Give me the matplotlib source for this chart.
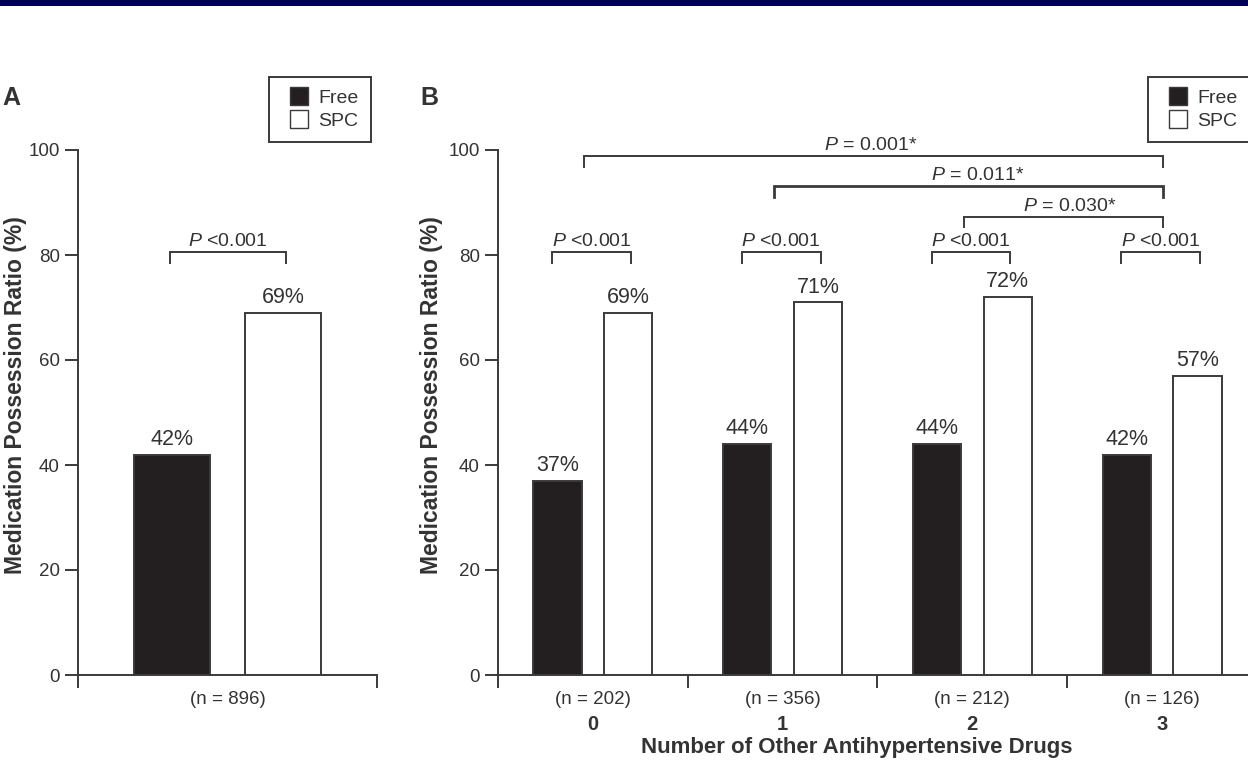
import matplotlib
matplotlib.use('Agg')
import matplotlib.pyplot as plt
import numpy as np
from matplotlib.lines import Line2D
from matplotlib.patches import Rectangle

plt.rcParams['font.family'] = ['Liberation Sans', 'DejaVu Sans']
plt.rcParams['mathtext.fontset'] = 'custom'
plt.rcParams['mathtext.rm'] = 'Liberation Sans'
plt.rcParams['mathtext.it'] = 'Liberation Sans:italic'

# data
series = ['Free', 'SPC']
overall_mpr = [42, 69]
overall_n = 896
drug_groups = ['0', '1', '2', '3']
free_mpr = [37, 44, 44, 42]
spc_mpr = [69, 71, 72, 57]
group_n = [202, 356, 212, 126]
pair_p = ['<0.001', '<0.001', '<0.001', '<0.001']
trend_from = [0, 1, 2]
trend_to = [3, 3, 3]
trend_p = ['= 0.001*', '= 0.011*', '= 0.030*']

BAR_BLACK = '#231f20'
LINE = '#3a3a3a'
TEXT = '#333333'
LW = 1.4
OFF = 0.186      # bar offset from group centre
W = 0.254        # bar width

fig = plt.figure(figsize=(12.48, 7.6), dpi=100)
fig.add_artist(Rectangle((0, 1 - 6 / 760), 1, 6 / 760, transform=fig.transFigure,
                         color='#000050', lw=0))

axA = fig.add_axes([78 / 1248, 85 / 760, 299 / 1248, 525 / 760])
axB = fig.add_axes([498 / 1248, 85 / 760, 759 / 1248, 525 / 760])


def style_axis(ax, xmax):
    ax.set_ylim(0, 100)
    ax.set_xlim(-0.5, xmax)
    for s in ['top', 'right']:
        ax.spines[s].set_visible(False)
    for s in ['left', 'bottom']:
        ax.spines[s].set_linewidth(LW)
        ax.spines[s].set_color(LINE)
    ax.set_yticks([0, 20, 40, 60, 80, 100])
    ax.tick_params(axis='y', direction='out', length=9.5, width=LW, color=LINE,
                   labelsize=13.5, labelcolor=TEXT, pad=3.5)
    ax.tick_params(axis='x', direction='out', length=9.5, width=LW, color=LINE,
                   labelbottom=False)
    ax.set_xticks(np.arange(-0.5, xmax + 0.01, 1.0))
    ax.set_ylabel('Medication Possession Ratio (%)', fontsize=16.5,
                  fontweight='bold', color=TEXT)
    ax.patch.set_alpha(0)


def pct_labels(ax, xs, vals):
    for x, v in zip(xs, vals):
        ax.annotate(f'{v}%', (x, v), xytext=(0, 7), textcoords='offset points',
                    ha='center', va='baseline', fontsize=15.5, color=TEXT)


def bracket(ax, x0, x1, ytop, ybot, label, lw=LW, label_dx=0.0):
    ax.plot([x0, x0, x1, x1], [ybot, ytop, ytop, ybot], color=LINE, lw=lw,
            solid_joinstyle='miter', clip_on=False)
    ax.annotate(r'$P$ ' + label, ((x0 + x1) / 2 + label_dx, ytop),
                xytext=(0, 4.5), textcoords='offset points', ha='center',
                va='baseline', fontsize=14, color=TEXT, annotation_clip=False)


# ---- panel A ----
style_axis(axA, 0.5)
xa = [-OFF, OFF]
axA.bar(xa, overall_mpr, W, color=[BAR_BLACK, 'white'],
        edgecolor=LINE, linewidth=LW, zorder=3)
pct_labels(axA, xa, overall_mpr)
bracket(axA, -0.193, 0.196, 80.6, 78.5, pair_p[0])
axA.annotate(f'(n = {overall_n})', (0, 0), xycoords=('data', 'axes fraction'),
             xytext=(0, -18), textcoords='offset points', ha='center', va='center',
             fontsize=13.5, color=TEXT)
axA.yaxis.set_label_coords(-0.171, 0.533)

# ---- panel B ----
style_axis(axB, 3.5)
xg = np.arange(len(drug_groups))
axB.bar(xg - OFF, free_mpr, W, color=BAR_BLACK, edgecolor=LINE, linewidth=LW, zorder=3)
axB.bar(xg + OFF, spc_mpr, W, color='white', edgecolor=LINE, linewidth=LW, zorder=3)
pct_labels(axB, xg - OFF, free_mpr)
pct_labels(axB, xg + OFF, spc_mpr)
for i, p in enumerate(pair_p):
    bracket(axB, xg[i] - 0.215, xg[i] + 0.2, 80.6, 78.5, p)
levels = [(98.9, 96.8, LW, -0.015), (93.1, 91.0, 2.0, 0.05), (87.2, 85.3, LW, 0.035)]
for a, b, p, (yt, yb, lw, dx) in zip(trend_from, trend_to, trend_p, levels):
    bracket(axB, a - 0.045, b + 0.005, yt, yb, p, lw=lw, label_dx=dx)
for i, (g, n) in enumerate(zip(drug_groups, group_n)):
    axB.annotate(f'(n = {n})', (i, 0), xycoords=('data', 'axes fraction'),
                 xytext=(0, -18), textcoords='offset points', ha='center',
                 va='center', fontsize=13.5, color=TEXT)
    axB.annotate(g, (i, 0), xycoords=('data', 'axes fraction'),
                 xytext=(0, -36), textcoords='offset points', ha='center',
                 va='center', fontsize=14.5, fontweight='bold', color=TEXT)
axB.annotate('Number of Other Antihypertensive Drugs', (0.473, 0),
             xycoords='axes fraction', xytext=(0, -52), textcoords='offset points',
             ha='center', va='center', fontsize=16, fontweight='bold', color=TEXT)
axB.yaxis.set_label_coords(-0.0725, 0.533)

# panel letters
fig.text(2 / 1248, 1 - 105 / 760, 'A', fontsize=18, fontweight='bold', color=TEXT)
fig.text(420 / 1248, 1 - 105 / 760, 'B', fontsize=18, fontweight='bold', color=TEXT)

# legends
handles = [Line2D([], [], ls='none', marker='s', markersize=13, mfc=BAR_BLACK,
                  mec=LINE, mew=1.0, label=series[0]),
           Line2D([], [], ls='none', marker='s', markersize=13, mfc='white',
                  mec=LINE, mew=1.0, label=series[1])]
for ax, x0 in [(axA, 269), (axB, 1148)]:
    leg = ax.legend(handles=handles, loc='upper left',
                    bbox_to_anchor=(x0 / 1248, 1 - 77 / 760),
                    bbox_transform=fig.transFigure, fontsize=14,
                    handlelength=1.8, handletextpad=0.1,
                    labelspacing=0.25, borderpad=0.65, borderaxespad=0,
                    fancybox=False, framealpha=1, edgecolor=LINE)
    leg.get_frame().set_linewidth(LW)
    for t in leg.get_texts():
        t.set_color(TEXT)

fig.savefig('out.png', dpi=100)
